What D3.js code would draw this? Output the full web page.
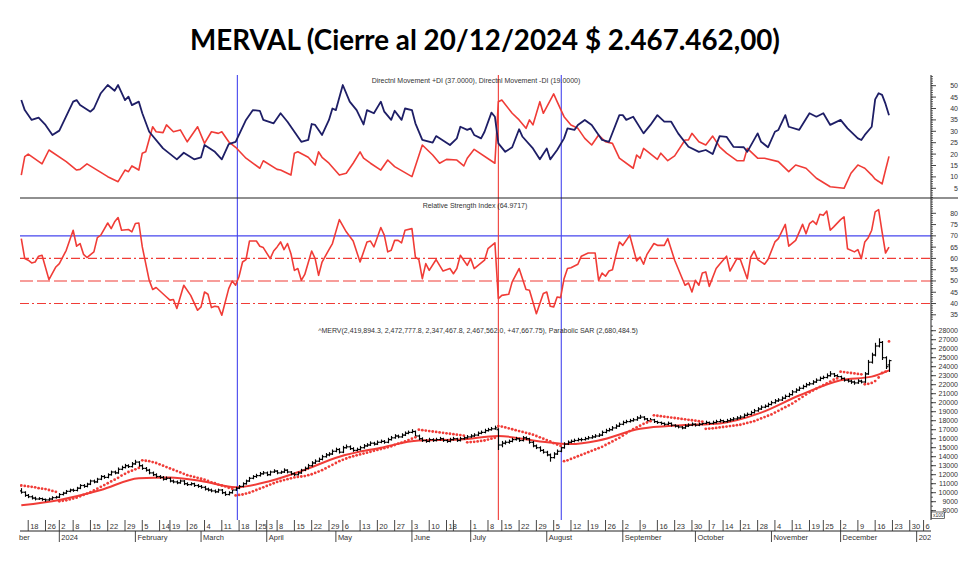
<!DOCTYPE html>
<html><head><meta charset="utf-8">
<script src="https://cdn.jsdelivr.net/npm/d3@7"></script>
<style>body{margin:0;background:#fff}svg{display:block}</style>
</head><body><svg id="c" width="980" height="561"></svg>
<script>
// ---------- data ----------
const titleText = "MERVAL (Cierre al 20/12/2024 $ 2.467.462,00)";
const dmiLabel = "Directnl Movement +DI (37.0000), Directnl Movement -DI (19.0000)";
const rsiLabel = "Relative Strength Index (64.9717)";
const priceLabel = "^MERV(2,419,894.3, 2,472,777.8, 2,347,467.8, 2,467,562.0, +47,667.75), Parabolic SAR (2,680,484.5)";
const calendarStart = "2023-12-14", calendarEnd = "2025-01-10";
const holidays = ["2023-12-25","2024-01-01","2024-02-12","2024-02-13","2024-03-28","2024-03-29","2024-04-01","2024-04-02",
  "2024-05-01","2024-06-17","2024-06-20","2024-06-21","2024-07-09","2024-10-11","2024-11-18","2025-01-01"];
// indicator series: [session index, value]
const diPlus = [[0,43.7],[1,39.3],[3,35],[5,36],[7,32.8],[9,28.4],[11,30.3],[12,33.5],[15,43],[16,43.7],[17,41.5],[20,38.6],[21,40],[23,46.7],[25,50.3],[27,47.8],[28,50.3],[30,43.7],[31,45.2],[32,41.5],[34,43],[35,37.9],[37,29.8],[41,22.5],[45,17.7],[47,20.6],[50,17.7],[52,18.6],[53,24],[56,21],[58,17.7],[60,24.4],[62,25.4],[65,35],[67,39.3],[69,39],[70,35],[73,33.5],[75,37.9],[77,34.2],[81,25.4],[83,26.2],[84,33.2],[85,32.8],[87,28.4],[89,35],[90,40],[91,39.3],[93,50.3],[95,43],[97,39.3],[99,33],[100,39.3],[102,37.9],[104,43],[105,38.6],[107,35],[108,39],[110,35],[111,40],[113,39.3],[114,33.5],[116,26.2],[119,25],[120,27.9],[124,24],[126,26.9],[127,32],[129,30.6],[130,31.3],[131,28.4],[133,26.9],[134,29.8],[136,38.2],[137,36.4],[138,24.7],[140,21],[142,23],[144,30.9],[145,27.6],[148,22.5],[150,17.7],[152,22.5],[153,17.7],[155,21.8],[157,26.9],[158,31.3],[160,30.6],[161,32.8],[163,35],[165,32.8],[168,26.2],[170,25.4],[173,37.1],[174,37.1],[175,35],[177,36.4],[180,29.1],[182,32.8],[184,37.1],[186,34.2],[188,34.2],[190,29.1],[193,23.2],[196,21],[198,21.8],[200,20],[202,27.9],[204,27.6],[206,23.2],[209,23],[210,21],[213,29.1],[214,25.4],[216,23],[218,29.8],[219,30.6],[221,37.1],[222,32],[225,30.6],[228,37.9],[230,36.4],[232,37.9],[234,32.8],[237,35],[239,31.3],[242,26.9],[243,26.2],[244,28.4],[246,32],[247,44],[248,46.7],[249,46],[250,42],[251,37]];
const diMinus = [[0,10.8],[1,18.9],[2,20],[6,15.7],[8,21.8],[13,16.7],[16,13],[17,13.3],[19,15.7],[25,10.1],[28,7.9],[30,13],[31,12.3],[32,14.8],[34,13],[35,20.4],[36,21],[38,32],[39,29.8],[41,29.4],[42,32.8],[44,29.8],[46,30.6],[48,25.4],[51,32],[53,24.7],[55,29.8],[57,29.1],[58,29.8],[60,25.4],[62,23],[65,18.2],[69,13.8],[70,17.1],[74,13.3],[75,13],[78,10.8],[79,20.4],[80,21],[83,18.6],[85,15.2],[86,21],[87,18.6],[89,16],[92,10.8],[94,11.6],[96,16],[98,21],[99,18.2],[101,16],[104,13],[106,17.4],[108,14.5],[113,10.1],[116,24],[119,19.6],[121,16],[123,17.7],[126,17.4],[128,14.8],[129,18.2],[131,22.1],[137,16],[138,43],[139,43.7],[142,37.9],[144,35],[146,31.3],[147,35],[148,32.8],[150,43],[151,37.9],[154,46.4],[155,43],[157,36.4],[159,32.8],[161,31.3],[163,26.9],[165,24],[167,28.4],[169,25.4],[171,24.7],[173,18.2],[177,13.8],[178,19.6],[179,18.2],[180,22.5],[184,17.7],[185,20.4],[187,17.1],[189,19.2],[192,26.2],[193,26.2],[194,29.1],[196,25.4],[198,24],[200,27.9],[202,23.2],[204,20.4],[207,17.1],[209,17.1],[210,22.5],[213,18.2],[215,18.2],[219,16.7],[222,12.3],[224,15.2],[227,13.8],[230,9.4],[234,5.7],[238,5],[240,11.6],[242,15.2],[243,14.5],[244,13.8],[246,10.8],[247,9],[248,8],[249,6.9],[250,13],[251,19]];
const rsi = [[0,68.8],[1,59.9],[2,59.2],[3,58],[4,58.4],[5,61],[6,61.4],[8,50.6],[10,56.2],[11,57.7],[13,63.6],[15,72.5],[16,65.4],[17,66.6],[18,61.8],[19,60.4],[21,62.9],[22,69.2],[23,70.3],[25,75.7],[26,73.2],[27,76.2],[28,78.1],[29,72.5],[31,72.8],[32,71.8],[33,75.5],[34,75.7],[35,65.1],[37,50.3],[38,46.2],[39,47.1],[42,42.9],[43,41.5],[44,41.8],[45,37.8],[47,48.1],[49,43.6],[51,37],[52,38.5],[53,45.1],[54,44.1],[55,38.2],[56,38.8],[57,38.5],[58,34.8],[60,46.6],[61,50],[62,48.1],[63,52.1],[64,58.4],[65,59.5],[66,67.7],[68,67.7],[69,65.4],[70,64.8],[72,59.9],[73,63.3],[74,65.1],[75,67.3],[76,63.9],[77,66.6],[78,62.1],[79,54.7],[80,55.5],[81,50.3],[82,52.9],[84,63.3],[85,59.9],[86,52.5],[87,58.4],[89,63.9],[90,66.6],[92,77.2],[94,71.8],[96,67.7],[98,58.4],[100,67.3],[101,67.7],[102,65.1],[104,73.7],[105,70.3],[106,62.9],[107,63.6],[108,68],[109,68],[110,66.9],[111,72.5],[113,73.2],[114,60.6],[115,59.5],[116,51],[117,57.7],[118,54.7],[120,59.5],[122,54.4],[124,55.5],[125,53.2],[126,55.5],[127,61.4],[129,56.9],[130,59.9],[131,55.5],[134,59.2],[135,64.3],[137,66.9],[138,42.2],[139,43.6],[141,44.1],[142,49.6],[144,55.5],[146,46.2],[147,45.9],[149,35.5],[151,44.4],[152,45.1],[153,38.8],[154,38.5],[155,42.9],[156,42.6],[157,51],[158,55.5],[159,55.9],[161,57.4],[162,61],[164,62.4],[166,62.4],[167,50.3],[168,53.5],[169,52.1],[170,54.4],[171,55],[172,61.4],[173,67.3],[174,65.8],[176,70.3],[178,58.9],[179,60.6],[180,57.4],[181,61.8],[183,66.6],[184,65.8],[186,65.8],[187,68.8],[189,59.2],[192,48.1],[193,49.1],[194,45.1],[195,50.3],[196,48.1],[197,53.5],[198,54],[199,47.6],[201,55.5],[202,57.4],[204,61],[205,54.4],[207,59.9],[208,59.5],[210,51],[211,60.6],[212,63.3],[213,59.5],[215,57.4],[216,59.5],[218,67.3],[219,68.8],[221,75.1],[222,65.4],[224,68],[226,75.1],[227,70.9],[228,75.4],[229,76.6],[230,75.1],[231,79.6],[232,79.1],[233,81],[234,72.5],[235,74],[237,77.2],[238,78.4],[239,64.3],[241,62.9],[242,63.9],[243,59.9],[244,67.3],[245,69.2],[246,72.5],[247,80.6],[248,81.6],[249,71.8],[250,62.4],[251,65]];
// daily prices (x100), one per session starting 2023-12-14
const opens = [10200,10050,9700,9550,9400,9300,9350,9250,9200,9300,9450,9500,9800,9950,10150,10300,10250,10500,10800,10700,10950,11300,11200,11500,11800,11700,12000,12300,12200,12600,12800,13000,12900,13200,13400,13000,12700,12500,12200,12000,11800,11700,11500,11600,11300,11200,11100,11300,11000,10900,11000,10800,10700,10600,10400,10300,10200,10100,10300,10000,9800,10000,10300,10500,10700,11000,11300,11600,11800,11900,12100,12200,12000,12300,12400,12200,12300,12500,12300,12100,12000,12200,12500,12700,13000,13300,13500,13700,14000,14200,14300,14600,14800,14500,15000,15100,14900,14700,14800,15000,15200,15300,15500,15400,15600,15700,15600,15900,16100,16300,16200,16400,16600,16700,16800,16300,16000,15800,15700,15900,15800,15900,16000,15800,15700,15900,16000,15800,16000,16100,16200,16300,16400,16600,16700,16900,17000,17100,17000,15300,15500,15600,15700,15900,16000,15800,16100,16000,15600,15200,15000,14700,14500,14200,13900,14300,14600,15000,15400,15600,15700,15800,15900,15900,16000,16100,16200,16300,16400,16700,16900,17000,17200,17400,17600,17800,17900,18000,18100,18300,18400,18200,18000,18100,17900,17800,17700,17600,17700,17500,17400,17300,17200,17400,17500,17600,17500,17600,17700,17800,17700,17800,17900,18000,17900,18000,18100,18200,18300,18400,18600,18700,18900,19100,19300,19500,19600,19800,20000,20200,20300,20500,20700,20900,21200,21400,21600,21800,22000,22100,22300,22500,22700,22800,23000,23200,23000,22900,22700,22500,22400,22300,22200,22400,22300,23200,24500,25300,26300,26700,25000,24199];
const highs = [10450,10100,9800,9650,9500,9450,9400,9300,9400,9550,9600,9900,10050,10250,10400,10400,10600,10900,10900,11050,11400,11400,11600,11900,11900,12100,12400,12400,12750,12950,13150,13100,13350,13600,13450,13100,12800,12600,12300,12100,11900,11800,11750,11650,11400,11300,11400,11350,11100,11100,11050,10900,10800,10700,10500,10400,10300,10400,10350,10100,10100,10400,10600,10800,11100,11400,11700,11900,12050,12250,12350,12300,12400,12550,12450,12400,12650,12550,12350,12200,12300,12600,12850,13150,13450,13650,13850,14150,14350,14450,14750,14950,14900,15150,15300,15200,15000,14950,15150,15350,15450,15650,15600,15750,15850,15800,16050,16250,16450,16400,16550,16750,16850,17000,16850,16400,16100,15900,16050,16000,16050,16150,16050,15900,16050,16150,16050,16150,16250,16350,16450,16550,16750,16850,17050,17150,17250,17400,17100,15700,15750,15850,16050,16150,16050,16250,16200,16050,15700,15300,15100,14800,14600,14300,14450,14750,15150,15550,15750,15850,15950,16050,16050,16150,16250,16350,16450,16550,16850,17050,17150,17350,17550,17750,17950,18050,18150,18250,18450,18600,18450,18250,18250,18150,17950,17850,17750,17850,17750,17550,17450,17350,17550,17650,17750,17650,17750,17850,17950,17850,17950,18050,18150,18050,18150,18250,18350,18450,18550,18750,18850,19050,19250,19450,19650,19750,19950,20150,20350,20450,20650,20850,21050,21350,21550,21750,21950,22150,22250,22450,22650,22850,22950,23200,23450,23250,23100,22950,22750,22600,22500,22400,22550,22500,23350,24700,25500,26600,27100,26800,25100,24728];
const lows = [9950,9600,9450,9300,9200,9250,9150,9050,9150,9250,9400,9450,9750,9900,10100,10150,10200,10450,10600,10650,10900,11100,11150,11450,11600,11650,11950,12100,12150,12550,12750,12800,12850,13150,12900,12600,12400,12100,11900,11700,11600,11400,11450,11200,11100,11000,11050,10900,10800,10850,10700,10600,10500,10300,10200,10100,10000,10050,9900,9700,9750,9950,10250,10450,10650,10950,11250,11550,11700,11850,12050,11900,11950,12250,12100,12150,12250,12200,12000,11900,11950,12150,12450,12650,12950,13250,13450,13650,13950,14100,14250,14550,14400,14450,14950,14800,14600,14650,14750,14950,15150,15250,15300,15350,15550,15500,15550,15850,16050,16100,16150,16350,16550,16650,16200,15900,15700,15600,15650,15700,15750,15850,15700,15600,15650,15850,15700,15750,15950,16050,16150,16250,16350,16550,16650,16850,16950,17050,14800,15100,15400,15500,15650,15850,15700,15750,15900,15500,15100,14900,14600,14400,14100,13500,13850,14250,14550,14950,15350,15550,15650,15750,15750,15850,15950,16050,16150,16250,16350,16650,16850,16950,17150,17350,17550,17750,17850,17950,18050,18250,18100,17900,17950,17800,17700,17600,17500,17550,17400,17300,17200,17100,17150,17350,17450,17400,17450,17550,17650,17600,17650,17750,17850,17800,17850,17950,18050,18150,18250,18350,18550,18650,18850,19050,19250,19450,19550,19750,19950,20150,20250,20450,20650,20850,21150,21350,21550,21750,21950,22050,22250,22450,22650,22750,22950,22900,22800,22600,22400,22300,22150,22050,22150,22200,22250,23150,24400,25200,26200,24800,23800,23475];
const closes = [10050,9700,9550,9400,9300,9350,9250,9200,9300,9450,9500,9800,9950,10150,10300,10250,10500,10800,10700,10950,11300,11200,11500,11800,11700,12000,12300,12200,12600,12800,13000,12900,13200,13400,13000,12700,12500,12200,12000,11800,11700,11500,11600,11300,11200,11100,11300,11000,10900,11000,10800,10700,10600,10400,10300,10200,10100,10300,10000,9800,10000,10300,10500,10700,11000,11300,11600,11800,11900,12100,12200,12000,12300,12400,12200,12300,12500,12300,12100,12000,12200,12500,12700,13000,13300,13500,13700,14000,14200,14300,14600,14800,14500,15000,15100,14900,14700,14800,15000,15200,15300,15500,15400,15600,15700,15600,15900,16100,16300,16200,16400,16600,16700,16800,16300,16000,15800,15700,15900,15800,15900,16000,15800,15700,15900,16000,15800,16000,16100,16200,16300,16400,16600,16700,16900,17000,17100,17200,15300,15500,15600,15700,15900,16000,15800,16100,16000,15600,15200,15000,14700,14500,14200,13900,14300,14600,15000,15400,15600,15700,15800,15900,15900,16000,16100,16200,16300,16400,16700,16900,17000,17200,17400,17600,17800,17900,18000,18100,18300,18400,18200,18000,18100,17900,17800,17700,17600,17700,17500,17400,17300,17200,17400,17500,17600,17500,17600,17700,17800,17700,17800,17900,18000,17900,18000,18100,18200,18300,18400,18600,18700,18900,19100,19300,19500,19600,19800,20000,20200,20300,20500,20700,20900,21200,21400,21600,21800,22000,22100,22300,22500,22700,22800,23000,23200,23000,22900,22700,22500,22400,22300,22200,22400,22300,23200,24500,25300,26300,26700,25000,24000,24676];
const sar = [10800,10750,10700,10650,10600,10500,10450,10400,10300,10200,10100,9050,9100,9150,9250,9350,9450,9600,9750,9900,10050,10250,10450,10650,10850,11050,11250,11450,11650,11900,12100,12300,12450,12600,12750,13600,13550,13500,13400,13300,13150,13000,12850,12700,12550,12400,12250,12100,11950,11850,11750,11650,11550,11450,11300,11150,11050,10900,10800,10700,10550,10450,9700,9750,9800,9900,10000,10150,10300,10450,10600,10750,10900,11050,11200,11300,11400,11500,11600,11700,11750,11800,11850,11950,12050,12200,12350,12500,12700,12900,13100,13300,13500,13650,13800,13950,14050,14150,14250,14350,14450,14550,14650,14750,14850,14950,15050,15150,15300,15450,15550,15700,15850,16000,16150,17000,16950,16900,16850,16800,16750,16700,16650,16600,16550,16500,16450,16400,16350,15600,15620,15650,15700,15750,15800,15900,16000,16100,17400,17350,17250,17150,17050,16950,16850,16750,16650,16550,16450,16300,16150,16000,15850,15700,15500,15350,15200,13500,13600,13750,13900,14050,14200,14350,14500,14650,14800,14950,15100,15300,15500,15700,15900,16100,16350,16600,16850,17050,17250,17450,17650,17800,17950,18600,18550,18500,18450,18400,18350,18300,18250,18200,18150,18100,18050,18000,17950,17900,17100,17120,17150,17200,17250,17300,17350,17400,17450,17500,17550,17650,17750,17850,17950,18100,18250,18400,18550,18700,18900,19100,19300,19500,19700,19900,20150,20400,20650,20900,21150,21350,21550,21750,21950,22150,22350,22550,22700,23450,23400,23350,23300,23250,23200,23150,22050,22100,22200,22400,22800,23300,23450,26805];
// smooth red average line: [session index, value]
const avgLine = [[0,8600],[11,9200],[23,10300],[34,11600],[43,11700],[52,11300],[62,10600],[72,11300],[81,12400],[92,14000],[104,15000],[115,15800],[127,15900],[138,16300],[150,15700],[159,15400],[167,15800],[179,17100],[191,17500],[202,17700],[214,18900],[225,20800],[237,22500],[246,22900],[251,23600]];
const dmiTicks = [5,10,15,20,25,30,35,40,45,50];
const rsiTicks = [35,40,45,50,55,60,65,70,75,80];
const priceTicks = d3.range(8000, 28001, 1000);
const rsiLevels = [{v:70,kind:"solid"},{v:60,kind:"dashdot"},{v:50,kind:"dash"},{v:40,kind:"dashdot"}];
const markerSessions = [{s:62.5,c:"blue"},{s:138,c:"red"},{s:156.2,c:"blue"}];

// ---------- layout ----------
const svg = d3.select("#c");
const L = 20, R = 931, TOP = 75, BOT = 520;
const NAVY = "#1e1e66", RED = "#f03c37", BLUE = "#4646ee";
const FONT = "'Liberation Sans', Arial, sans-serif";
const fmt = d3.utcFormat("%Y-%m-%d");
const hol = new Set(holidays);
const sessions = [];
for (let d = d3.utcParse("%Y-%m-%d")(calendarStart); d <= d3.utcParse("%Y-%m-%d")(calendarEnd); d = d3.utcDay.offset(d,1)) {
  const wd = d.getUTCDay();
  if (wd === 0 || wd === 6 || hol.has(fmt(d))) continue;
  sessions.push(d);
}
const x = d3.scaleLinear().domain([0, 263.15]).range([21.3, R]);
const yD = d3.scaleLinear().domain([0, 50]).range([199.7, 85.7]);
const yR = d3.scaleLinear().domain([35, 80]).range([314.8, 213.3]);
const yP = d3.scaleLinear().domain([8000, 28000]).range([510.7, 330.7]);

const defs = svg.append("defs");
defs.append("clipPath").attr("id","plot").append("rect").attr("x",L).attr("y",TOP).attr("width",R-L).attr("height",BOT-TOP);
defs.append("clipPath").attr("id","xax").append("rect").attr("x",L).attr("y",BOT).attr("width",R-L).attr("height",40);

// title
const title = svg.append("text").attr("x",485).attr("y",50).attr("text-anchor","middle")
  .style("font-family","Lato, 'Open Sans', sans-serif").style("font-weight","700").style("font-size","28px").attr("fill","#000").text(titleText);
const tw = title.node().getComputedTextLength();
title.style("font-size", (28*590/tw).toFixed(2)+"px");

const plot = svg.append("g").attr("clip-path","url(#plot)");

svg.append("line").attr("x1",L).attr("x2",958).attr("y1",198).attr("y2",198).attr("stroke","#222").attr("stroke-width",1.2);

rsiLevels.forEach(l => {
  const ln = plot.append("line").attr("x1",L).attr("x2",R).attr("y1",yR(l.v)).attr("y2",yR(l.v))
    .attr("stroke", l.kind==="solid" ? BLUE : RED).attr("stroke-width", l.kind==="solid"?1.2:1.1);
  if (l.kind==="dashdot") ln.attr("stroke-dasharray","9,3,2,3");
  if (l.kind==="dash") ln.attr("stroke-dasharray","13,4");
});

markerSessions.forEach(m => {
  plot.append("line").attr("x1",x(m.s)).attr("x2",x(m.s)).attr("y1",TOP).attr("y2",BOT)
    .attr("stroke", m.c==="blue"?BLUE:RED).attr("stroke-width",1.1);
});

// DMI
const lineD = d3.line().x(d=>x(d[0])).y(d=>yD(d[1]));
plot.append("path").datum(diMinus).attr("d",lineD).attr("fill","none").attr("stroke",RED).attr("stroke-width",1.6).attr("stroke-linejoin","round");
plot.append("path").datum(diPlus).attr("d",lineD).attr("fill","none").attr("stroke",NAVY).attr("stroke-width",1.8).attr("stroke-linejoin","round");

// RSI
const lineR = d3.line().x(d=>x(d[0])).y(d=>yR(d[1]));
plot.append("path").datum(rsi).attr("d",lineR).attr("fill","none").attr("stroke",RED).attr("stroke-width",1.6).attr("stroke-linejoin","round");

// price panel
const lineA = d3.line().x(d=>x(d[0])).y(d=>yP(d[1])).curve(d3.curveMonotoneX);
plot.append("path").datum(avgLine).attr("d",lineA).attr("fill","none").attr("stroke",RED).attr("stroke-width",2);
const bars = plot.append("g").attr("stroke","#000").attr("stroke-width",1.15);
closes.forEach((c,i) => {
  const xx = Math.round(x(i)) + 0.5;
  bars.append("line").attr("x1",xx).attr("x2",xx).attr("y1",yP(highs[i])-0.5).attr("y2",yP(lows[i])+0.5);
  bars.append("line").attr("x1",xx-2).attr("x2",xx).attr("y1",yP(opens[i])).attr("y2",yP(opens[i]));
  bars.append("line").attr("x1",xx).attr("x2",xx+2).attr("y1",yP(c)).attr("y2",yP(c));
});
plot.append("g").selectAll("circle").data(sar).join("circle")
  .attr("cx",(d,i)=>x(i)).attr("cy",d=>yP(d)).attr("r",1.4).attr("fill",RED);

// panel labels
const lab = (t,xx,yy) => svg.append("text").attr("x",xx).attr("y",yy).attr("text-anchor","middle")
  .style("font-family",FONT).style("font-size","7px").attr("fill","#333").text(t);
lab(dmiLabel, 476, 83);
lab(rsiLabel, 475, 208);
lab(priceLabel, 478, 333);

// right axis
const ax = svg.append("g");
ax.append("line").attr("x1",R).attr("x2",R).attr("y1",TOP).attr("y2",BOT).attr("stroke","#222");
function ticks(scale, lo, hi, minorStep, majors) {
  d3.range(lo, hi+1e-9, minorStep).forEach(v => {
    const yy = scale(v);
    ax.append("line").attr("x1",R).attr("x2",R+2).attr("y1",yy).attr("y2",yy).attr("stroke","#333").attr("stroke-width",0.8);
  });
  majors.forEach(v => {
    const yy = scale(v);
    ax.append("line").attr("x1",R).attr("x2",R+5).attr("y1",yy).attr("y2",yy).attr("stroke","#333").attr("stroke-width",0.9);
    ax.append("text").attr("x",958).attr("y",yy+2.5).attr("text-anchor","end")
      .style("font-family",FONT).style("font-size","7px").attr("fill","#333").text(v);
  });
}
ticks(yD, 1, 54, 1, dmiTicks);
ticks(yR, 33, 87, 1, rsiTicks);
ticks(yP, 7500, 28500, 500, priceTicks);
ax.append("rect").attr("x",931.5).attr("y",512).attr("width",13).attr("height",6.5).attr("fill","#fff").attr("stroke","#333").attr("stroke-width",0.7);
ax.append("text").attr("x",933).attr("y",517).style("font-family",FONT).style("font-size","5px").attr("fill","#333").text("x100");

// x axis
const xa = svg.append("g").attr("clip-path","url(#xax)");
xa.append("line").attr("x1",L).attr("x2",R).attr("y1",531).attr("y2",531).attr("stroke","#222");
const weekKey = d => d3.utcMonday.floor(d).getTime();
const monthNames = ["2024","February","March","April","May","June","July","August","September","October","November","December"];
let lastLabelEnd = -Infinity;
sessions.forEach((d,i) => {
  const prev = sessions[i-1];
  const xx = x(i);
  if (prev && weekKey(prev) !== weekKey(d)) {
    xa.append("line").attr("x1",xx).attr("x2",xx).attr("y1",520).attr("y2",531).attr("stroke","#333").attr("stroke-width",0.9);
    if (xx >= lastLabelEnd) {
      const t = xa.append("text").attr("x",xx+2).attr("y",528.5).style("font-family",FONT).style("font-size","7.5px").attr("fill","#333").text(d.getUTCDate());
      lastLabelEnd = xx + 2 + t.node().getComputedTextLength();
    }
  }
  if (prev && prev.getUTCMonth() !== d.getUTCMonth()) {
    const m = d.getUTCMonth();
    const name = m === 0 ? String(d.getUTCFullYear()) : monthNames[m];
    xa.append("line").attr("x1",xx).attr("x2",xx).attr("y1",531).attr("y2",542).attr("stroke","#333").attr("stroke-width",0.9);
    xa.append("text").attr("x",xx+2).attr("y",540).style("font-family",FONT).style("font-size","7.5px").attr("fill","#333").text(name);
  }
});
// visible tail of the "December" (2023) month label at the left edge
svg.append("text").attr("x",19).attr("y",540).style("font-family",FONT).style("font-size","7.5px").attr("fill","#333").text("ber");
</script></body></html>
